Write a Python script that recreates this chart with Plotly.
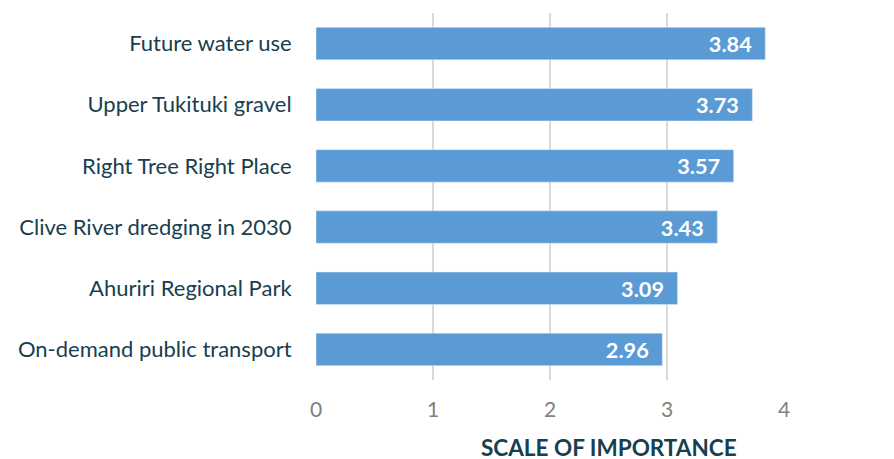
import plotly.graph_objects as go

categories = [
    "Future water use",
    "Upper Tukituki gravel",
    "Right Tree Right Place",
    "Clive River dredging in 2030",
    "Ahuriri Regional Park",
    "On-demand public transport",
]
scores = [3.84, 3.73, 3.57, 3.43, 3.09, 2.96]
tick_values = [0, 1, 2, 3, 4]

BAR_COLOR = "#5B9BD5"
LABEL_COLOR = "#17404F"
FONT = "Lato, 'Open Sans', sans-serif"

fig = go.Figure()

fig.add_trace(
    go.Bar(
        x=scores,
        y=categories,
        orientation="h",
        marker={"color": BAR_COLOR},
        text=[f"{v:.2f}&nbsp;&nbsp;" for v in scores],
        textposition="inside",
        insidetextanchor="end",
        textfont={"color": "white", "size": 23, "family": FONT, "weight": "bold"},
        hoverinfo="x+y",
        width=0.53,
    )
)

# the page body adds an 8px margin, so the figure is a bit smaller than the window
fig.update_layout(
    width=886,
    height=451,
    plot_bgcolor="white",
    paper_bgcolor="white",
    showlegend=False,
    margin={"l": 308, "r": 110, "t": 5, "b": 79, "autoexpand": False},
    xaxis={
        "range": [0, 4],
        "tickvals": tick_values,
        "showgrid": True,
        "gridcolor": "#D9D9D9",
        "gridwidth": 2,
        "zeroline": False,
        "tickfont": {"color": "#808080", "size": 21, "family": FONT},
        "ticks": "outside",
        "ticklen": 11,
        "tickcolor": "rgba(0,0,0,0)",
    },
    yaxis={
        "autorange": "reversed",
        "tickfont": {"color": LABEL_COLOR, "size": 22, "family": FONT},
        "ticks": "outside",
        "ticklen": 19,
        "tickcolor": "rgba(0,0,0,0)",
        "showline": False,
    },
    annotations=[
        {
            "text": "<b>SCALE OF IMPORTANCE</b>",
            "xref": "paper",
            "yref": "paper",
            "x": 0.627,
            "y": -0.183,
            "xanchor": "center",
            "yanchor": "middle",
            "showarrow": False,
            "font": {"color": LABEL_COLOR, "size": 22.5, "family": FONT},
        }
    ],
)

fig.write_html("out.html")
